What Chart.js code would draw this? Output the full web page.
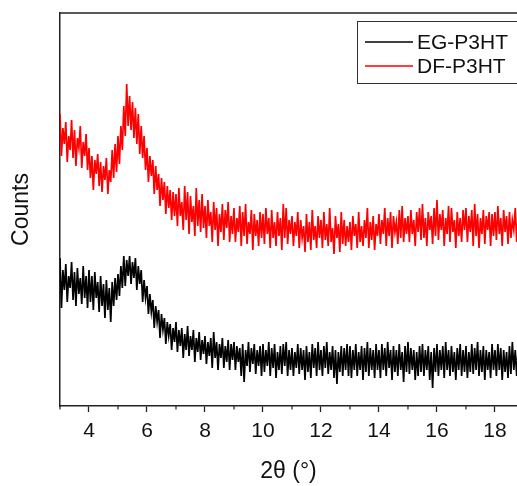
<!DOCTYPE html>
<html>
<head>
<meta charset="utf-8">
<script src="https://cdn.jsdelivr.net/npm/chart.js@4.4.1/dist/chart.umd.min.js"></script>
<style>
  html, body { margin: 0; padding: 0; background: #fff; }
  #wrap { width: 517px; height: 486px; position: relative; }
</style>
</head>
<body>
<div id="wrap"><canvas id="c"></canvas></div>
<script>
// Sampling grid of 2θ (degrees)
const thetaStart = 3.0;
const thetaStep = 0.05;

// Series labels
const seriesLabels = ["EG-P3HT", "DF-P3HT"];

// X tick labels (major ticks every 2°)
const xTickLabels = ["4", "6", "8", "10", "12", "14", "16", "18"];

// Counts (arbitrary units), 3.00 .. 18.80 step 0.05
const dfCounts = [
  292, 250, 278, 262, 284, 244, 270, 256, 286, 248, 276, 240, 268, 258, 280, 238, 264, 250, 272, 236,
  258, 228, 250, 216, 246, 232, 252, 220, 244, 214, 240, 226, 248, 212, 236, 224, 256, 228, 262, 234,
  270, 242, 280, 256, 300, 270, 322, 280, 310, 276, 304, 268, 298, 262, 292, 252, 280, 248, 270, 236,
  258, 224, 250, 230, 246, 212, 240, 216, 232, 200, 228, 206, 224, 192, 220, 198, 216, 186, 214, 190,
  212, 180, 218, 190, 204, 176, 220, 186, 214, 172, 210, 184, 200, 170, 218, 180, 206, 174, 212, 178,
  200, 168, 206, 180, 194, 164, 204, 176, 198, 160, 192, 174, 202, 166, 196, 178, 204, 164, 190, 172,
  198, 164, 188, 174, 200, 160, 194, 170, 202, 162, 184, 172, 196, 156, 192, 170, 186, 160, 194, 168,
  192, 162, 198, 172, 188, 158, 196, 168, 184, 160, 194, 170, 188, 156, 202, 168, 198, 162, 186, 172,
  190, 160, 184, 170, 194, 158, 186, 168, 180, 154, 192, 164, 184, 156, 196, 166, 180, 158, 190, 168,
  186, 158, 194, 166, 182, 160, 198, 164, 178, 152, 190, 168, 182, 154, 194, 162, 186, 160, 180, 164,
  184, 156, 190, 170, 182, 158, 194, 164, 180, 160, 186, 168, 198, 158, 184, 166, 190, 156, 182, 170,
  192, 162, 186, 172, 198, 160, 188, 170, 194, 158, 190, 174, 184, 162, 196, 168, 200, 164, 188, 172,
  190, 164, 196, 172, 186, 160, 194, 174, 198, 166, 202, 168, 188, 160, 194, 176, 190, 162, 198, 170,
  206, 166, 192, 176, 196, 160, 188, 172, 200, 164, 198, 174, 186, 158, 194, 170, 188, 164, 196, 176,
  198, 164, 190, 174, 196, 160, 202, 170, 192, 158, 188, 172, 196, 162, 190, 176, 194, 160, 192, 170,
  194, 166, 200, 172, 188, 160, 196, 174, 190, 162, 194, 168, 186, 176, 198, 164, 190
];

const egCounts = [
  148, 98, 136, 116, 142, 104, 130, 118, 144, 106, 134, 100, 138, 112, 128, 102, 140, 108, 130, 98,
  136, 104, 130, 96, 134, 108, 124, 94, 130, 100, 122, 88, 126, 96, 118, 84, 124, 100, 128, 106,
  132, 110, 140, 118, 150, 120, 146, 130, 150, 122, 144, 128, 148, 116, 140, 122, 136, 104, 126, 108,
  120, 92, 112, 94, 106, 78, 100, 84, 96, 68, 92, 76, 88, 62, 84, 70, 82, 56, 78, 64,
  84, 54, 76, 60, 78, 48, 72, 56, 80, 50, 70, 56, 76, 44, 68, 54, 74, 46, 66, 52,
  70, 42, 64, 50, 68, 38, 74, 48, 64, 36, 62, 48, 68, 38, 60, 44, 66, 36, 62, 46,
  64, 36, 60, 44, 58, 30, 62, 24, 56, 40, 64, 34, 58, 42, 62, 32, 56, 40, 60, 30,
  62, 34, 56, 40, 64, 30, 58, 38, 62, 28, 54, 36, 60, 32, 62, 40, 64, 30, 56, 36,
  58, 30, 54, 38, 62, 32, 58, 36, 56, 26, 60, 34, 54, 28, 62, 38, 58, 30, 64, 36,
  56, 30, 60, 38, 64, 32, 54, 36, 60, 28, 56, 22, 54, 34, 60, 30, 58, 36, 62, 30,
  60, 28, 56, 36, 62, 30, 54, 36, 60, 26, 58, 34, 64, 30, 58, 36, 56, 28, 62, 36,
  56, 28, 62, 36, 58, 30, 64, 38, 56, 26, 60, 34, 56, 30, 62, 36, 54, 24, 60, 34,
  64, 32, 58, 36, 56, 26, 54, 30, 60, 34, 62, 30, 56, 36, 60, 26, 54, 18, 58, 34,
  62, 30, 56, 36, 60, 28, 64, 36, 56, 30, 60, 34, 54, 26, 58, 36, 62, 30, 56, 34,
  60, 28, 54, 34, 62, 32, 58, 36, 64, 30, 56, 34, 60, 26, 56, 36, 54, 28, 62, 36,
  56, 30, 62, 36, 58, 26, 56, 34, 54, 28, 60, 32, 64, 36, 56, 30, 58
];

function toPoints(arr) {
  return arr.map((v, i) => ({ x: +(thetaStart + i * thetaStep).toFixed(2), y: v }));
}

const FONT = "'Liberation Sans', Arial, Helvetica, sans-serif";

const framePlugin = {
  id: 'frame',
  afterDraw(chart) {
    const ctx = chart.ctx;
    const ca = chart.chartArea;
    const xs = chart.scales.x;
    ctx.save();
    // top border
    ctx.strokeStyle = '#222';
    ctx.lineWidth = 1.5;
    ctx.beginPath();
    ctx.moveTo(ca.left, ca.top);
    ctx.lineTo(chart.width + 2, ca.top);
    ctx.stroke();
    // minor ticks at odd values
    ctx.lineWidth = 1.2;
    xs.ticks.forEach(t => {
      if (Math.round(t.value) % 2 !== 0) {
        const px = xs.getPixelForValue(t.value);
        ctx.beginPath();
        ctx.moveTo(px, ca.bottom);
        ctx.lineTo(px, ca.bottom + 3.5);
        ctx.stroke();
      }
    });
    // legend
    const bx = 357, by = 21, bh = 62;
    ctx.strokeStyle = '#333';
    ctx.lineWidth = 1;
    ctx.strokeRect(bx + 0.5, by + 0.5, chart.width - bx + 5, bh);
    ctx.font = '21px ' + FONT;
    ctx.textBaseline = 'middle';
    ctx.textAlign = 'left';
    [0, 1].forEach((di, k) => {
      const ds = chart.data.datasets[di];
      const ly = by + 21 + k * 24;
      ctx.strokeStyle = ds.borderColor;
      ctx.lineWidth = 1.6;
      ctx.beginPath();
      ctx.moveTo(365, ly);
      ctx.lineTo(413, ly);
      ctx.stroke();
      ctx.fillStyle = '#111';
      ctx.fillText(ds.label, 417, ly + 1);
    });
    ctx.restore();
  }
};

new Chart(document.getElementById('c'), {
  type: 'line',
  data: {
    datasets: [
      { label: seriesLabels[0], data: toPoints(egCounts), borderColor: '#000000', borderWidth: 1.7, pointRadius: 0, tension: 0, fill: false },
      { label: seriesLabels[1], data: toPoints(dfCounts), borderColor: '#ff0000', borderWidth: 1.7, pointRadius: 0, tension: 0, fill: false }
    ]
  },
  options: {
    responsive: true,
    maintainAspectRatio: false,
    animation: false,
    layout: { padding: { top: 13, right: 0, left: 0, bottom: 0 } },
    plugins: { legend: { display: false }, tooltip: { enabled: false } },
    scales: {
      x: {
        type: 'linear',
        min: 3,
        max: 18.76,
        afterFit(scale) { scale.height = 80; },
        afterBuildTicks(scale) {
          const t = [];
          for (let v = 3; v <= 18; v++) t.push({ value: v });
          scale.ticks = t;
        },
        ticks: {
          autoSkip: false,
          maxRotation: 0,
          padding: 7,
          color: '#111',
          font: { family: FONT, size: 21 },
          callback: (v) => xTickLabels.includes(String(v)) ? String(v) : ''
        },
        grid: {
          drawOnChartArea: false,
          drawTicks: true,
          tickLength: 6,
          tickWidth: 1.3,
          tickColor: (ctx) => (ctx.tick && Math.round(ctx.tick.value) % 2 === 0) ? '#222' : 'rgba(0,0,0,0)'
        },
        border: { display: true, color: '#222', width: 1.5 },
        title: {
          display: true,
          text: '2θ (°)',
          color: '#111',
          font: { family: FONT, size: 23 },
          padding: { top: 4, bottom: 1 }
        }
      },
      y: {
        min: 0,
        max: 393,
        afterFit(scale) { scale.width = 60; },
        ticks: { display: false },
        grid: { display: false },
        border: { display: true, color: '#222', width: 1.5 },
        title: {
          display: true,
          text: 'Counts',
          color: '#111',
          font: { family: FONT, size: 23 },
          padding: { top: 8, bottom: 4 }
        }
      }
    }
  },
  plugins: [framePlugin]
});
</script>
</body>
</html>
